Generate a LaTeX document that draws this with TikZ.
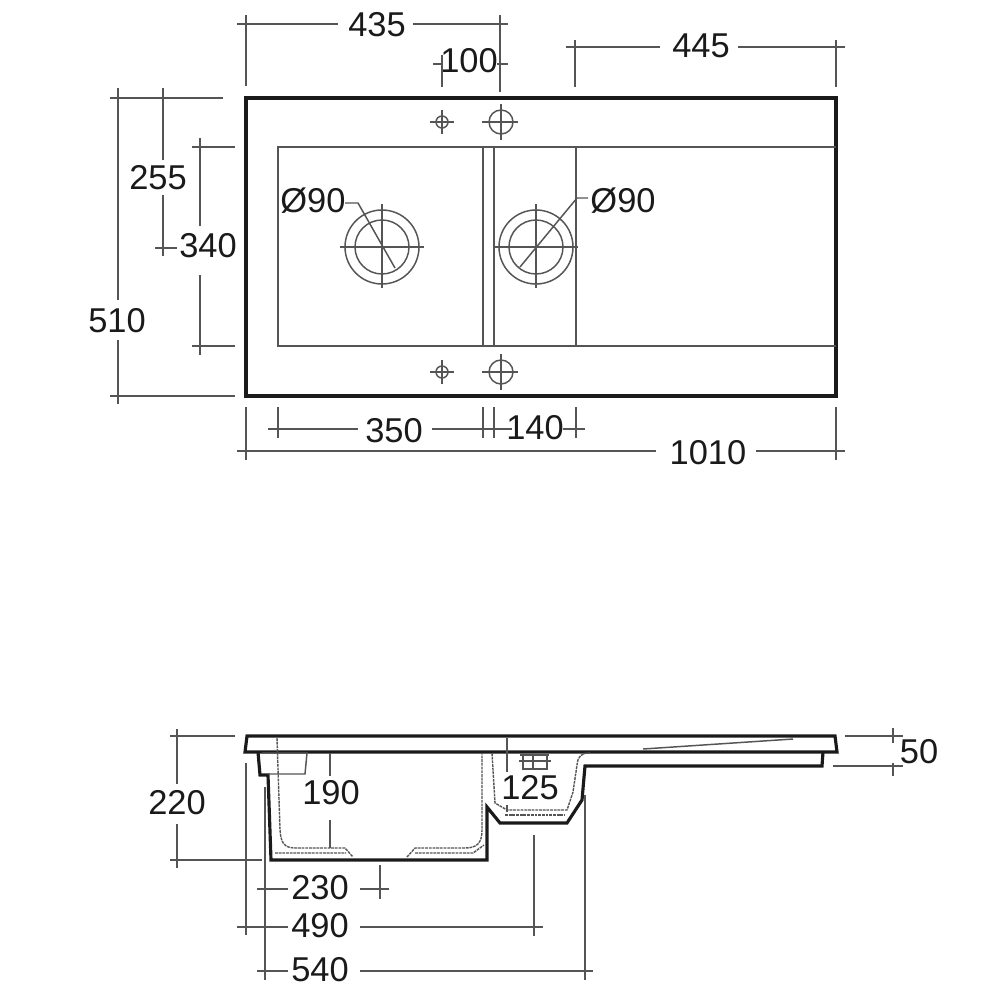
\documentclass[tikz,border=0pt]{standalone}
\usepackage{fontspec}
\setmainfont{Liberation Sans}
\definecolor{dimgray}{HTML}{555555}
\definecolor{inkblack}{HTML}{1A1A1A}
\tikzset{
	outline/.style={color=inkblack,line width=0.9pt,line join=miter},
	thinline/.style={color=dimgray,line width=0.42pt},
	softline/.style={color=dimgray,line width=0.4pt,dash pattern=on 0.8pt off 0.25pt},
	dimlabel/.style={color=inkblack,inner sep=0pt,font=\fontsize{9.8}{12}\selectfont}
}
\begin{document}
\begin{tikzpicture}[x=0.01cm,y=-0.01cm]
		\useasboundingbox (0,0) rectangle (1000,1000);
		% top view
		\draw[outline] (246,98) rectangle (836,396);
		\draw[thinline] (836,147) -- (278,147) -- (278,346) -- (836,346);
		\foreach \xx in {483,494,576} \draw[thinline] (\xx,147) -- (\xx,346);
		\foreach \yy in {122,372} {
			\draw[thinline] (442,\yy) circle [radius=6];
			\draw[thinline] (430,\yy) -- (454,\yy) (442,\yy-12) -- (442,\yy+12);
			\draw[thinline] (501,\yy) circle [radius=12];
			\draw[thinline] (482,\yy) -- (518,\yy) (501,\yy-18) -- (501,\yy+18);
		}
		\foreach \xx in {382,536} {
			\draw[thinline] (\xx,247) circle [radius=37];
			\draw[thinline] (\xx,247) circle [radius=27];
			\draw[thinline] (\xx-42,247) -- (\xx+42,247) (\xx,204) -- (\xx,288);
		}
		\draw[thinline] (345,203) -- (358,203) -- (395,268);
		\draw[thinline] (588,198) -- (577,198) -- (520,267);
		\node[dimlabel] (dia1) at (313,201) {Ø90};
		\node[dimlabel] (dia2) at (623,201) {Ø90};
		% top dimensions
		\node[dimlabel] (w435) at (377,25) {435};
		\draw[thinline] (237,24) -- (338,24) (413,24) -- (508,24);
		\draw[thinline] (246,15) -- (246,86) (500,15) -- (500,92);
		\node[dimlabel] (w100) at (469,61) {100};
		\draw[thinline] (433,64) -- (443,64) (497,64) -- (508,64) (442,55) -- (442,87);
		\node[dimlabel] (w445) at (701,46) {445};
		\draw[thinline] (566,47) -- (660,47) (738,47) -- (845,47);
		\draw[thinline] (575,40) -- (575,87) (836,40) -- (836,87);
		% left dimensions
		\node[dimlabel] (h510) at (117,321) {510};
		\draw[thinline] (118,88) -- (118,300) (118,340) -- (118,404);
		\draw[thinline] (110,98) -- (223,98) (110,396) -- (235,396);
		\node[dimlabel] (h255) at (158,178) {255};
		\draw[thinline] (163,88) -- (163,160) (163,195) -- (163,256) (155,248) -- (177,248);
		\node[dimlabel] (h340) at (208,246) {340};
		\draw[thinline] (200,138) -- (200,226) (200,275) -- (200,355);
		\draw[thinline] (192,147) -- (235,147) (192,346) -- (235,346);
		% bottom dimensions
		\node[dimlabel] (w350) at (394,431) {350};
		\node[dimlabel] (w140) at (535,428) {140};
		\node[dimlabel] (w1010) at (708,453) {1010};
		\draw[thinline] (268,429) -- (358,429) (432,429) -- (512,429) (563,429) -- (585,429);
		\foreach \xx in {278,483,494,576} \draw[thinline] (\xx,407) -- (\xx,438);
		\draw[thinline] (237,451) -- (656,451) (756,451) -- (845,451);
		\draw[thinline] (246,407) -- (246,460) (836,407) -- (836,460);
		% side view
		\draw[outline] (247,736) -- (835,736) -- (837,752) -- (245,752) -- cycle;
		\draw[outline] (258,752) -- (260,775) -- (268,775) -- (271,860) -- (487,860) -- (487,807) -- (500,823) -- (567,823) -- (582,800) -- (585,766) -- (822,766) -- (823,752);
		\draw[thinline] (643,749) -- (793,739);
		\draw[softline] (277,738) -- (280,830) .. controls (281,843) and (284,848) .. (296,848) -- (345,848) -- (353,857);
		\draw[softline] (407,857) -- (415,848) -- (465,848) .. controls (477,848) and (482,843) .. (482,830) -- (482,753);
		\draw[softline] (275,853) -- (346,853) (415,853) -- (473,853) -- (484,845);
		\draw[softline] (492,753) -- (495,803) -- (507,810) -- (567,810) -- (573,792) -- (577,765) .. controls (578,756) and (581,753) .. (590,753);
		\draw[softline] (505,815) -- (565,815);
		\draw[thinline] (262,753) -- (307,753) -- (305,774) -- (268,774);
		\draw[thinline] (520,755) -- (549,755) (519,761) -- (551,761) (522,769) -- (548,769);
		\draw[thinline] (523,755) -- (523,769) (547,755) -- (547,769) (533,755) -- (533,769);
		% side dimensions
		\node[dimlabel] (h50) at (919,752) {50};
		\draw[thinline] (845,736) -- (903,736) (833,766) -- (903,766) (893,728) -- (893,743) (893,763) -- (893,776);
		\node[dimlabel] (h220) at (177,803) {220};
		\draw[thinline] (177,729) -- (177,784) (177,824) -- (177,868);
		\draw[thinline] (170,736) -- (235,736) (170,860) -- (262,860);
		\node[dimlabel] (h190) at (331,793) {190};
		\draw[thinline] (330,753) -- (330,776) (330,820) -- (330,848);
		\node[dimlabel] (h125) at (530,788) {125};
		\draw[thinline] (507,738) -- (507,772) (507,805) -- (507,812);
		\node[dimlabel] (w230) at (320,888) {230};
		\draw[thinline] (257,889) -- (288,889) (360,889) -- (389,889) (380,865) -- (380,899);
		\node[dimlabel] (w490) at (320,926) {490};
		\draw[thinline] (237,927) -- (288,927) (360,927) -- (543,927) (534,835) -- (534,936);
		\node[dimlabel] (w540) at (320,970) {540};
		\draw[thinline] (257,971) -- (288,971) (360,971) -- (593,971) (585,795) -- (585,980);
		\draw[thinline] (246,763) -- (246,935) (265,787) -- (265,980);
		\end{tikzpicture}
\end{document}
